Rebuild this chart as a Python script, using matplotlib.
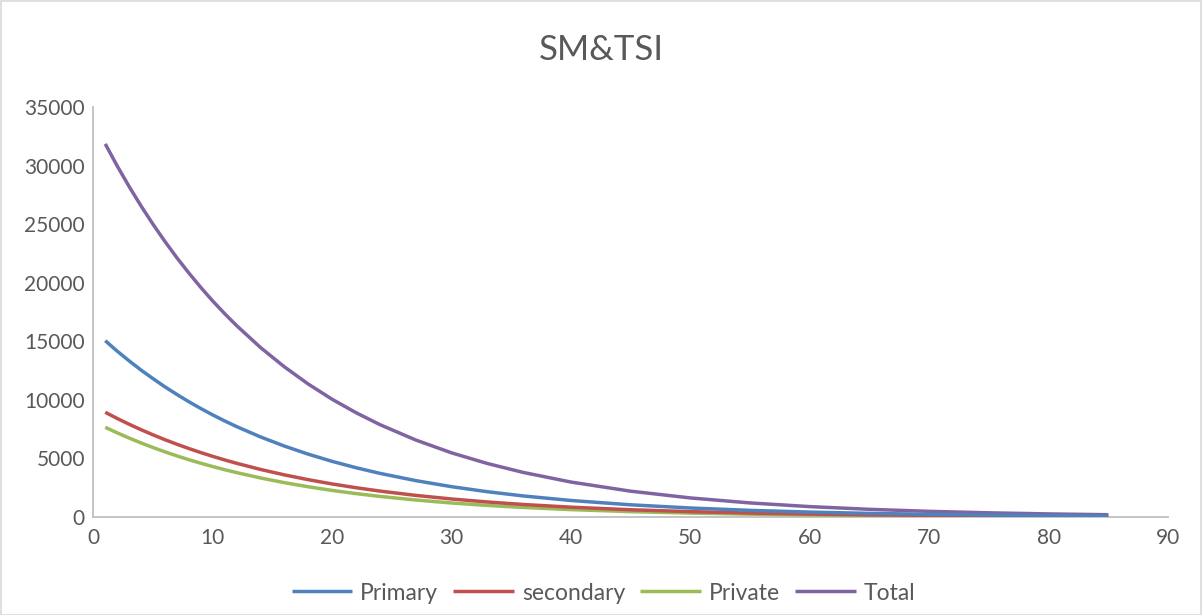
import matplotlib
matplotlib.use("Agg")
import matplotlib.pyplot as plt
from matplotlib.patches import Rectangle

# Data
x_vals = [1, 2, 3, 4, 5, 6, 7, 8, 9, 10, 11, 12,
          14, 16, 18, 20, 22, 24,
          27, 30, 33, 36, 40,
          45, 50, 55, 60, 65, 70, 75, 80, 85]
primary = [15050, 14160, 13330, 12540, 11810, 11110, 10460, 9841, 9262, 8715, 8202, 7719,
           6837, 6056, 5364, 4750, 4208, 3726,
           3106, 2589, 2158, 1798, 1410,
           1041, 769, 567, 419, 309, 228, 169, 124, 92]
secondary = [8940, 8413, 7918, 7451, 7013, 6600, 6211, 5846, 5502, 5177, 4872, 4585,
             4061, 3597, 3186, 2821, 2500, 2214,
             1845, 1538, 1282, 1068, 838,
             619, 457, 337, 249, 184, 136, 100, 74, 55]
private = [7660, 7185, 6740, 6322, 5930, 5562, 5217, 4894, 4591, 4306, 4039, 3789,
           3334, 2933, 2581, 2270, 1998, 1758,
           1451, 1197, 988, 816, 631,
           458, 333, 242, 175, 127, 93, 67, 49, 35]
total = [31850, 29970, 28210, 26550, 24990, 23520, 22130, 20830, 19600, 18440, 17360, 16340,
         14470, 12820, 11350, 10050, 8905, 7886,
         6574, 5478, 4567, 3806, 2984,
         2204, 1628, 1201, 887, 655, 483, 357, 263, 194]

series_names = ["Primary", "secondary", "Private", "Total"]
series_colors = ["#4F81BD", "#C0504D", "#9BBB59", "#8064A2"]
series_z = [5, 4, 3, 2]

x_ticks = [0, 10, 20, 30, 40, 50, 60, 70, 80, 90]
y_ticks = [0, 5000, 10000, 15000, 20000, 25000, 30000, 35000]
title = "SM&TSI"

plt.rcParams['font.family'] = ['Lato', 'DejaVu Sans']

W, H = 1202, 615
fig = plt.figure(figsize=(W / 100, H / 100), dpi=100)
fig.patch.set_facecolor("white")
fig.add_artist(Rectangle((0.5 / W, 0.5 / H), 1 - 1.5 / W, 1 - 1.5 / H,
                         transform=fig.transFigure, fill=False,
                         edgecolor="#D9D9D9", linewidth=1.2))

left, right = 93.3 / W, 1168 / W
bottom, top = 1 - 517 / H, 1 - 107 / H
ax = fig.add_axes([left, bottom, right - left, top - bottom])

for ys, name, col, z in zip([primary, secondary, private, total], series_names,
                            series_colors, series_z):
    ax.plot(x_vals, ys, color=col, lw=2.5, label=name, zorder=z,
            solid_capstyle='butt', solid_joinstyle='round')

ax.set_xlim(0, 90)
ax.set_ylim(0, 35000)
ax.set_xticks(x_ticks)
ax.set_yticks(y_ticks)
ax.set_xticklabels([str(v) for v in x_ticks])
ax.set_yticklabels([str(v) for v in y_ticks])

for s in ["top", "right"]:
    ax.spines[s].set_visible(False)
for s in ["left", "bottom"]:
    ax.spines[s].set_color("#BFBFBF")
    ax.spines[s].set_linewidth(1.3)
ax.tick_params(axis='both', length=0, labelsize=15, labelcolor="#595959")
ax.tick_params(axis='y', pad=6)
ax.tick_params(axis='x', pad=8)

fig.text(0.5, 1 - 50 / H, title, ha='center', va='center', fontsize=25,
         color="#595959")

leg = fig.legend(loc='center', bbox_to_anchor=(0.502, 1 - 593 / H), ncol=4,
                 frameon=False, fontsize=16.5, handlelength=2.65,
                 handletextpad=0.35, columnspacing=0.65, labelcolor="#595959")

fig.savefig("out.png", dpi=100, facecolor="white")
